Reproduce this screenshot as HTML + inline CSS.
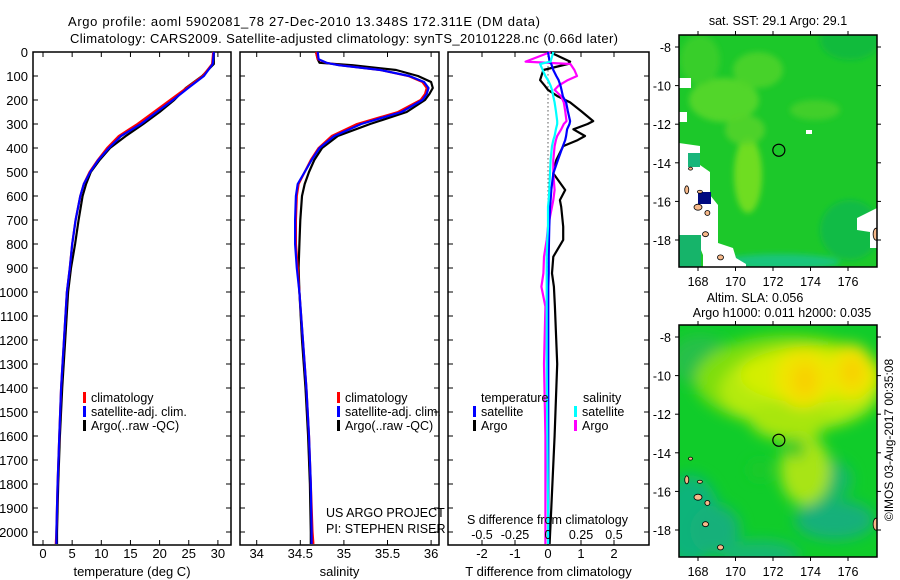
<!DOCTYPE html>
<html><head><meta charset="utf-8"><style>
body{margin:0;background:#fff;}
svg{display:block;font-family:"Liberation Sans",sans-serif;}
</style></head><body>
<svg id="fig" width="900" height="580" viewBox="0 0 900 580">
<defs>
<filter id="blur8" x="-50%" y="-50%" width="200%" height="200%"><feGaussianBlur stdDeviation="7"/></filter>
<filter id="blur4" x="-50%" y="-50%" width="200%" height="200%"><feGaussianBlur stdDeviation="3"/></filter>
<clipPath id="clipTop"><rect x="679" y="35" width="198" height="232"/></clipPath>
<clipPath id="clipBot"><rect x="679" y="325" width="198" height="232"/></clipPath>
</defs>
<text x="304" y="26" text-anchor="middle" font-size="13" textLength="472">Argo profile: aoml 5902081_78 27-Dec-2010 13.348S 172.311E (DM data)</text>
<text x="344" y="43" text-anchor="middle" font-size="13" textLength="548">Climatology: CARS2009. Satellite-adjusted climatology: synTS_20101228.nc (0.66d later)</text>
<g id="plots"></g>
<g id="maps"></g>
<text transform="translate(893,440) rotate(-90)" text-anchor="middle" font-size="12">©IMOS 03-Aug-2017 00:35:08</text>
</svg>
<script>
// ---- data ----
const depths = [0,50,100,150,200,250,300,350,400,450,500,550,600,700,800,900,1000,1200,1400,1600,1800,2000,2050];
const tempClim = [29.2,29.0,27.4,24.6,21.8,19.0,16.2,13.0,11.0,9.4,8.0,7.0,6.4,5.6,5.0,4.6,4.1,3.6,3.1,2.8,2.5,2.3,2.2];
const tempSat  = [29.3,29.1,27.6,24.9,22.3,19.5,16.8,13.4,11.3,9.5,8.1,7.0,6.4,5.6,5.0,4.6,4.1,3.6,3.1,2.8,2.5,2.3,2.3];
const tempArgo = [29.3,29.3,27.3,24.5,22.5,20.0,17.2,14.2,11.5,9.7,8.2,7.4,6.8,6.1,5.5,4.8,4.3,3.8,3.3,2.9,2.6,2.4,2.4];
const salDepths = [0,30,45,55,75,100,125,150,175,200,250,300,350,400,450,500,550,600,700,800,900,1000,1200,1400,1600,1800,2000,2050];
const salClim = [34.68,34.70,34.80,34.95,35.42,35.74,35.90,35.95,35.93,35.88,35.62,35.15,34.86,34.71,34.62,34.55,34.48,34.46,34.45,34.45,34.47,34.49,34.53,34.57,34.60,34.62,34.64,34.65];
const salSat  = [34.70,34.71,34.80,34.94,35.42,35.75,35.92,35.97,35.95,35.90,35.66,35.20,34.89,34.72,34.63,34.55,34.47,34.45,34.44,34.44,34.46,34.49,34.53,34.57,34.60,34.62,34.63,34.63];
const salArgo = [34.68,34.70,34.72,35.10,35.60,35.85,36.00,36.02,35.98,35.93,35.72,35.30,34.93,34.75,34.66,34.60,34.55,34.52,34.50,34.49,34.48,34.49,34.52,34.56,34.59,34.61,34.62,34.62];
const diffDepths = [0,40,50,75,100,117,140,158,185,210,246,288,300,322,350,367,392,450,506,575,617,645,728,783,853,922,978,1061,1300,1600,1900,2050];
const tDiffSat  = [0.0,0.05,0.10,0.16,0.25,0.32,0.38,0.41,0.45,0.55,0.60,0.67,0.65,0.58,0.55,0.52,0.45,0.30,0.16,0.10,0.08,0.06,0.04,0.03,0.02,0.02,0.01,0.01,0.01,0.01,0.01,0.01];
const tDiffArgo = [0.05,0.67,0.60,-0.14,-0.20,-0.24,-0.10,0.00,0.30,0.67,1.00,1.37,1.20,0.77,1.12,0.90,0.46,0.25,0.16,0.52,0.36,0.40,0.46,0.46,0.16,0.12,0.18,0.21,0.28,0.20,0.10,0.05];
const sDiffSat  = [0.04,0.02,-0.06,-0.04,-0.02,0.0,0.02,0.03,0.04,0.05,0.06,0.07,0.07,0.06,0.05,0.04,0.03,0.02,0.015,0.01,0.005,0.0,0.0,-0.005,-0.01,-0.01,-0.01,-0.01,-0.01,-0.005,0.0,0.0];
const sDiffArgo = [0.02,-0.17,0.17,0.20,0.22,0.15,0.08,0.05,0.10,0.12,0.13,0.14,0.12,0.10,0.07,0.06,0.05,0.04,0.04,0.05,0.04,0.03,0.0,-0.01,-0.03,-0.035,-0.05,-0.02,-0.03,-0.02,-0.02,-0.02];
const depthTicks = [0,100,200,300,400,500,600,700,800,900,1000,1100,1200,1300,1400,1500,1600,1700,1800,1900,2000];
const tempTicks = [0,5,10,15,20,25,30];
const salTicks = [34,34.5,35,35.5,36];
const salTickLabels = ["34","34.5","35","35.5","36"];
const tDiffTicks = [-2,-1,0,1,2];
const sDiffTicks = [-0.5,-0.25,0,0.25,0.5];
const sDiffTickLabels = ["-0.5","-0.25","0","0.25","0.5"];
const lonTicks = [168,170,172,174,176];
const latTicks = [-8,-10,-12,-14,-16,-18];

const NS="http://www.w3.org/2000/svg";
function mk(tag, attrs, parent){const e=document.createElementNS(NS,tag);for(const k in attrs)e.setAttribute(k,attrs[k]);parent.appendChild(e);return e;}
const plots=document.getElementById('plots');
const TOP=52, BOT=545;
const yD = d => TOP + d*0.24;

function panel(name, x0, x1, xScale, ticks, labels, xlabel, yLabels){
  const g=mk('g',{},plots);
  
  
  const r=mk('rect',{x:x0,y:TOP,width:x1-x0,height:BOT-TOP,fill:'none',stroke:'#000','stroke-width':1.5},g);
  
  
  depthTicks.forEach(d=>{
    mk('line',{x1:x0,x2:x0+5,y1:yD(d),y2:yD(d),stroke:'#000'},g);
    mk('line',{x1:x1,x2:x1-5,y1:yD(d),y2:yD(d),stroke:'#000'},g);
    if(yLabels){const t=mk('text',{x:x0-5,y:yD(d)+5,'text-anchor':'end','font-size':13},g);t.textContent=d;
      
      }
  });
  ticks.forEach((v,i)=>{
    const x=xScale(v);
    mk('line',{x1:x,x2:x,y1:TOP,y2:TOP+5,stroke:'#000'},g);
    mk('line',{x1:x,x2:x,y1:BOT,y2:BOT-5,stroke:'#000'},g);
    const t=mk('text',{x:x,y:558,'text-anchor':'middle','font-size':13},g);t.textContent=labels[i];
    
    
  });
  const xl=mk('text',{x:(x0+x1)/2,y:576,'text-anchor':'middle','font-size':13},g);xl.textContent=xlabel;
  
  
  return g;
}
function line(g, ds, vs, xScale, color, name, w){
  const pts=ds.map((d,i)=>xScale(vs[i]).toFixed(1)+','+yD(d).toFixed(1)).join(' ');
  const p=mk('polyline',{points:pts,fill:'none',stroke:color,'stroke-width':w||2.2,'stroke-linejoin':'round'},g);
  
  
}
function legend(g, x, y, color, label, name){
  mk('rect',{x:x,y:y-10,width:3,height:11,fill:color},g);
  const t=mk('text',{x:x+8,y:y,'font-size':12.5},g);t.textContent=label;
  
  
}
// panel 1 temperature
const xT = v => 43 + v*5.83;
const g1=panel('temperature-panel',33,231,xT,tempTicks,tempTicks.map(String),'temperature (deg C)',true);
line(g1,depths,tempArgo,xT,'#000','temp-argo-line');
line(g1,depths,tempClim,xT,'#f00','temp-climatology-line');
line(g1,depths,tempSat,xT,'#00f','temp-satellite-line');
legend(g1,83,402,'#f00','climatology','legend-climatology');
legend(g1,83,416,'#00f','satellite-adj. clim.','legend-satellite');
legend(g1,83,430,'#000','Argo(..raw -QC)','legend-argo');
// panel 2 salinity
const xS = v => 256.7 + (v-34)*87.2;
const g2=panel('salinity-panel',240,439,xS,salTicks,salTickLabels,'salinity',false);
line(g2,salDepths,salArgo,xS,'#000','sal-argo-line');
line(g2,salDepths,salClim,xS,'#f00','sal-climatology-line');
line(g2,salDepths,salSat,xS,'#00f','sal-satellite-line');
legend(g2,337,402,'#f00','climatology','legend-climatology-2');
legend(g2,337,416,'#00f','satellite-adj. clim.','legend-satellite-2');
legend(g2,337,430,'#000','Argo(..raw -QC)','legend-argo-2');
[['US ARGO PROJECT',517],['PI: STEPHEN RISER',533]].forEach(a=>{const t=mk('text',{x:326,y:a[1],'font-size':12.5},g2);t.textContent=a[0];
  
  });
// panel 3 differences
const xTD = v => 548 + v*33;
const xSD = v => 548 + v*132;
const g3=panel('difference-panel',448,649,xTD,tDiffTicks,tDiffTicks.map(String),'T difference from climatology',false);
const dz=mk('line',{x1:548,x2:548,y1:yD(60),y2:yD(1100),stroke:'#000','stroke-dasharray':'1,3'},g3);


line(g3,diffDepths,tDiffArgo,xTD,'#000','t-diff-argo-line');
line(g3,diffDepths,sDiffArgo,xSD,'#f0f','s-diff-argo-line');
line(g3,diffDepths,tDiffSat,xTD,'#00f','t-diff-satellite-line');
line(g3,diffDepths,sDiffSat,xSD,'#0ff','s-diff-satellite-line');
[['temperature',481,402],['salinity',583,402]].forEach(a=>{const t=mk('text',{x:a[1],y:a[2],'font-size':12.5},g3);t.textContent=a[0];
  
  });
legend(g3,473,416,'#00f','satellite','legend-t-satellite');
legend(g3,473,430,'#000','Argo','legend-t-argo');
legend(g3,574,416,'#0ff','satellite','legend-s-satellite');
legend(g3,574,430,'#f0f','Argo','legend-s-argo');
const st=mk('text',{x:467,y:524,'font-size':12.5},g3);st.textContent='S difference from climatology';


sDiffTicks.forEach((v,i)=>{const t=mk('text',{x:xSD(v),y:539,'text-anchor':'middle','font-size':12.5},g3);t.textContent=sDiffTickLabels[i];
  
  });

// ---- maps ----
const maps=document.getElementById('maps');
const xLon = v => 698 + (v-168)*18.75;
function mapFrame(name){
  const g=mk('g',{},maps);
  
  
  return g;
}
function mapAxes(g, y0, yLat){
  mk('rect',{x:679,y:y0,width:198,height:232,fill:'none',stroke:'#000','stroke-width':1.5},g);
  lonTicks.forEach(v=>{const x=xLon(v);
    mk('line',{x1:x,x2:x,y1:y0,y2:y0-4,stroke:'#000'},g);
    mk('line',{x1:x,x2:x,y1:y0+232,y2:y0+236,stroke:'#000'},g);
    const t=mk('text',{x:x,y:y0+251,'text-anchor':'middle','font-size':12.5},g);t.textContent=v;
    
    });
  latTicks.forEach(v=>{const y=yLat(v);
    mk('line',{x1:679,x2:675,y1:y,y2:y,stroke:'#000'},g);
    mk('line',{x1:877,x2:881,y1:y,y2:y,stroke:'#000'},g);
    const t=mk('text',{x:671,y:y+5,'text-anchor':'end','font-size':12.5},g);t.textContent=v;
    
    });
  const c=mk('circle',{cx:xLon(172.311),cy:yLat(-13.348),r:6,fill:'none',stroke:'#000','stroke-width':1.2},g);
  
  
}
function land(g, yLat){
  [[168.0,-16.3,4,3],[168.5,-16.6,2.5,2.5],[167.4,-15.4,2,4],[168.4,-17.7,3,2.5],[169.2,-18.9,3,2.5],[167.6,-14.3,2,1.5],[177.5,-17.7,3,6],[168.1,-15.5,2.5,1.5]].forEach(l=>{
    const e=mk('ellipse',{cx:xLon(l[0]),cy:yLat(l[1]),rx:l[2],ry:l[3],fill:'#f7b98a',stroke:'#000','stroke-width':0.8},g);
    
    
  });
}
// top SST map
const yLatT = v => 47 + (-8 - v)*19.3;
const gm1=mapFrame('sst-map');
const t1=mk('text',{x:778,y:25,'text-anchor':'middle','font-size':12.5},gm1);t1.textContent='sat. SST: 29.1  Argo: 29.1';


const c1=mk('g',{'clip-path':'url(#clipTop)'},gm1);
mk('rect',{x:679,y:35,width:198,height:232,fill:'#1cc82a'},c1);
const bl1=mk('g',{filter:'url(#blur4)'},c1);
[[724,100,35,22,'#5cd82a'],[758,70,25,18,'#4fd42a'],[748,175,14,38,'#7ee01e'],[745,130,20,15,'#55d42a'],[815,110,25,10,'#49d02a'],[850,40,30,20,'#10b840'],[850,230,30,30,'#10b84a'],[780,262,60,8,'#14c48a'],[700,60,20,25,'#3ccf2a']].forEach(b=>mk('ellipse',{cx:b[0],cy:b[1],rx:b[2],ry:b[3],fill:b[4],opacity:0.85},bl1));
mk('polygon',{points:'679,143 700,146 700,165 710,172 710,195 718,205 718,243 733,248 736,258 746,264 746,267 703,267 703,255 697,240 679,235',fill:'#fff'},c1);
mk('rect',{x:688,y:153,width:12,height:14,fill:'#19b57a'},c1);
mk('rect',{x:679,y:235,width:22,height:32,fill:'#16b46a'},c1);
mk('polygon',{points:'857,218 877,208 877,248 870,248 870,232 857,230',fill:'#fff'},c1);
mk('rect',{x:679,y:78,width:12,height:10,fill:'#fff'},c1);
mk('rect',{x:679,y:112,width:8,height:10,fill:'#fff'},c1);
mk('rect',{x:806,y:130,width:6,height:4,fill:'#fff'},c1);
mk('rect',{x:698,y:192,width:13,height:12,fill:'#000a80'},c1);
land(c1,yLatT);
mapAxes(gm1,35,yLatT);
// bottom SLA map
const yLatB = v => 337 + (-8 - v)*19.3;
const gm2=mapFrame('sla-map');
const t2=mk('text',{x:755,y:302,'text-anchor':'middle','font-size':12.5},gm2);t2.textContent='Altim. SLA: 0.056';


const t3=mk('text',{x:782,y:317,'text-anchor':'middle','font-size':12.5},gm2);t3.textContent='Argo h1000: 0.011 h2000: 0.035';


const c2=mk('g',{'clip-path':'url(#clipBot)'},gm2);
mk('rect',{x:679,y:325,width:198,height:232,fill:'#10cc2a'},c2);
const bl2=mk('g',{filter:'url(#blur8)'},c2);
[[690,520,30,45,'#10b47a'],[715,530,25,25,'#12b07a'],[835,520,40,20,'#14b07a'],[830,480,22,20,'#14b86a'],[760,555,40,15,'#18b870'],[700,360,30,25,'#28c04a'],
 [790,380,95,45,'#7ede10'],[800,390,80,40,'#b4ea10'],[790,420,40,20,'#a8e610'],[805,470,25,35,'#a8e418'],[810,375,70,28,'#d4ee00'],[803,378,28,30,'#f0e400'],[852,372,22,28,'#f0e400'],[805,380,12,16,'#f8d000'],[852,372,10,14,'#f8d000'],[795,448,10,10,'#30c82a'],[760,470,10,8,'#20c82a']].forEach(b=>mk('ellipse',{cx:b[0],cy:b[1],rx:b[2],ry:b[3],fill:b[4]},bl2));
land(c2,yLatB);
mapAxes(gm2,325,yLatB);
</script>
</body></html>
